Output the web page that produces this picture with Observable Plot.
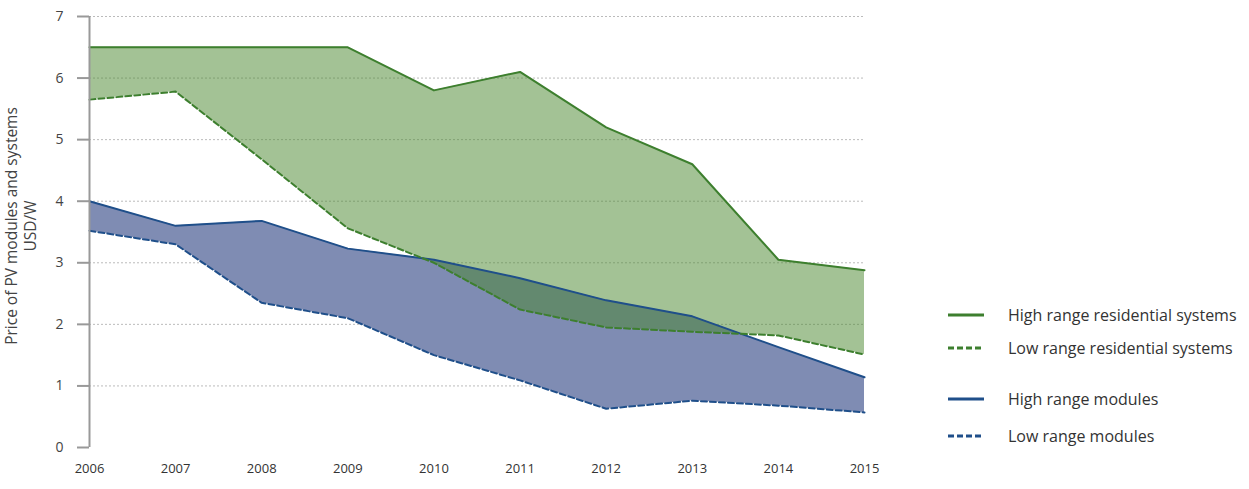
<!DOCTYPE html>
<html>
<head>
<meta charset="utf-8">
<script src="https://cdn.jsdelivr.net/npm/d3@7"></script>
<script src="https://cdn.jsdelivr.net/npm/@observablehq/plot@0.6"></script>
<style>
  html, body { margin: 0; padding: 0; background: #fff; }
  #wrap { position: relative; width: 1249px; height: 489px; font-family: "Open Sans", sans-serif; overflow: hidden; }
  #ylabel { position: absolute; left: 21px; top: 226px; transform: translate(-50%, -50%) rotate(-90deg); white-space: nowrap; text-align: center; font-size: 15.5px; line-height: 19px; color: #444; }
  #legend { position: absolute; left: 946px; top: 303px; font-size: 16px; color: #333; }
  .row { position: absolute; left: 0; white-space: nowrap; display: flex; align-items: center; height: 24px; }
  .row svg { margin-right: 22px; }
</style>
</head>
<body>
<div id="wrap">
  <div id="chart"></div>
  <div id="ylabel">Price of PV modules and systems<br>USD/W</div>
  <div id="legend"></div>
</div>
<script>
const years = [2006, 2007, 2008, 2009, 2010, 2011, 2012, 2013, 2014, 2015];
const highResidential = [6.5, 6.5, 6.5, 6.5, 5.8, 6.1, 5.2, 4.6, 3.05, 2.88];
const lowResidential  = [5.65, 5.78, 4.68, 3.56, 3.0, 2.24, 1.95, 1.88, 1.82, 1.51];
const highModules     = [4.0, 3.6, 3.68, 3.23, 3.05, 2.75, 2.39, 2.13, 1.63, 1.14];
const lowModules      = [3.52, 3.3, 2.35, 2.1, 1.5, 1.09, 0.63, 0.76, 0.68, 0.57];
const yTicks = [0, 1, 2, 3, 4, 5, 6, 7];
const gridTicks = [1, 2, 3, 4, 5, 6, 7];
const seriesNames = ["High range residential systems", "Low range residential systems", "High range modules", "Low range modules"];

const green = "#3d7f2e", greenFill = "#47852b";
const blue = "#1f4f8a", blueFill = "#7f8cb3";

const rows = years.map((year, i) => ({
  year,
  hr: highResidential[i], lr: lowResidential[i],
  hm: highModules[i], lm: lowModules[i]
}));

// the frame starts 12px left of the 2006 axis so the tick marks lie inside it
const W = 1249, ML = 77, MR = 385, tickPx = 12;
const plotPx = W - ML - MR;
const tickLen = tickPx * (2015 - 2006) / (plotPx - tickPx);
const xStart = 2006 - tickLen;

const chart = Plot.plot({
  width: W,
  height: 489,
  marginLeft: ML,
  marginRight: MR,
  marginTop: 16,
  marginBottom: 42,
  style: { fontFamily: "Open Sans, sans-serif", fontSize: "13px", color: "#999", background: "transparent", overflow: "visible" },
  x: { domain: [xStart, 2015], label: null },
  y: { domain: [0, 7], label: null },
  marks: [
    Plot.ruleY(gridTicks, { x1: 2006, x2: 2015, stroke: "#bbb", strokeWidth: 1, strokeDasharray: "2,2" }),
    Plot.areaY(rows, { x: "year", y1: "lm", y2: "hm", fill: blueFill, fillOpacity: 1 }),
    Plot.areaY(rows, { x: "year", y1: "lr", y2: "hr", fill: greenFill, fillOpacity: 0.5 }),
    Plot.lineY(rows, { x: "year", y: "hm", stroke: blue, strokeWidth: 2 }),
    Plot.lineY(rows, { x: "year", y: "lm", stroke: blue, strokeWidth: 2, strokeDasharray: "6,3" }),
    Plot.lineY(rows, { x: "year", y: "hr", stroke: green, strokeWidth: 2 }),
    Plot.lineY(rows, { x: "year", y: "lr", stroke: green, strokeWidth: 2, strokeDasharray: "6,3" }),
    Plot.ruleX([2006], { y1: 0, y2: 7, stroke: "#999", strokeWidth: 2 }),
    Plot.ruleY(yTicks, { x1: xStart, x2: 2006, stroke: "#999", strokeWidth: 2 }),
    Plot.axisY({ ticks: yTicks, tickSize: 0, tickPadding: 14, tickFormat: d => String(d), fill: "#444", fontSize: 14, label: null }),
    Plot.axisX({ ticks: years, tickSize: 0, tickPadding: 16, tickFormat: d => String(d), fill: "#333", fontSize: 13, label: null })
  ]
});
document.getElementById("chart").appendChild(chart);

const legendItems = [
  { name: seriesNames[0], color: green, dash: null, top: 0 },
  { name: seriesNames[1], color: green, dash: "6,3", top: 33 },
  { name: seriesNames[2], color: blue, dash: null, top: 84 },
  { name: seriesNames[3], color: blue, dash: "6,3", top: 121 }
];
const legend = document.getElementById("legend");
legendItems.forEach(it => {
  const row = document.createElement("div");
  row.className = "row";
  row.style.top = it.top + "px";
  row.innerHTML = `<svg width="40" height="6"><line x1="2" x2="38" y1="3" y2="3" stroke="${it.color}" stroke-width="3" ${it.dash ? `stroke-dasharray="${it.dash}"` : ""}/></svg><span>${it.name}</span>`;
  legend.appendChild(row);
});
</script>
</body>
</html>
